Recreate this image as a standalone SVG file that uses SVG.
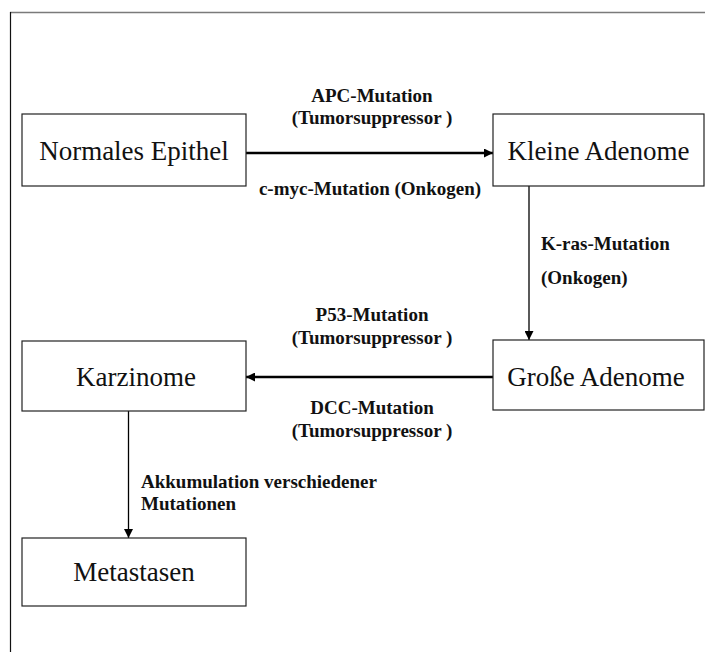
<svg xmlns="http://www.w3.org/2000/svg" width="705" height="652" viewBox="0 0 705 652">
  <style>
    .box { fill: #ffffff; stroke: #222222; stroke-width: 1.2; }
    .node { font-family: "Liberation Serif", "Times New Roman", serif; font-size: 27px; fill: #111111; text-anchor: middle; }
    .lbl { font-family: "Liberation Serif", "Times New Roman", serif; font-size: 19px; font-weight: bold; fill: #111111; }
    .mid { text-anchor: middle; }
    .thick { stroke: #000000; stroke-width: 2.4; fill: none; }
    .thin { stroke: #000000; stroke-width: 1.3; fill: none; }
  </style>
  <defs>
    <marker id="ah" viewBox="0 0 10 10" refX="10" refY="5" markerWidth="9" markerHeight="9" markerUnits="userSpaceOnUse" orient="auto">
      <path d="M0,0 L10,5 L0,10 z" fill="#000000"/>
    </marker>
  </defs>
  <rect x="0" y="0" width="705" height="652" fill="#ffffff"/>
  <g id="frame">
    <line x1="10" y1="12.5" x2="705" y2="12.5" stroke="#7a7a7a" stroke-width="1.3"/>
    <line x1="10.5" y1="12" x2="10.5" y2="652" stroke="#111111" stroke-width="1.2"/>
  </g>
  <g id="connectors">
    <line class="thick" x1="246" y1="153" x2="493" y2="153" marker-end="url(#ah)"/>
    <line class="thin" x1="529" y1="186" x2="529" y2="340" marker-end="url(#ah)"/>
    <line class="thick" x1="493" y1="377" x2="246" y2="377" marker-end="url(#ah)"/>
    <line class="thin" x1="128.5" y1="411" x2="128.5" y2="538" marker-end="url(#ah)"/>
    <text class="lbl mid" x="372" y="102">APC-Mutation</text>
    <text class="lbl mid" x="372" y="124">(Tumorsuppressor )</text>
    <text class="lbl mid" x="370" y="195">c-myc-Mutation (Onkogen)</text>
    <text class="lbl" x="541" y="250">K-ras-Mutation</text>
    <text class="lbl" x="541" y="284">(Onkogen)</text>
    <text class="lbl mid" x="372" y="321">P53-Mutation</text>
    <text class="lbl mid" x="372" y="344">(Tumorsuppressor )</text>
    <text class="lbl mid" x="372" y="414">DCC-Mutation</text>
    <text class="lbl mid" x="372" y="437">(Tumorsuppressor )</text>
    <text class="lbl" x="141" y="488">Akkumulation verschiedener</text>
    <text class="lbl" x="141" y="510">Mutationen</text>
  </g>
  <g id="normales-epithel">
    <rect class="box" x="22" y="114" width="224" height="72"/>
    <text class="node" x="134" y="160">Normales Epithel</text>
  </g>
  <g id="kleine-adenome">
    <rect class="box" x="493" y="114" width="211" height="72"/>
    <text class="node" x="598.5" y="160">Kleine Adenome</text>
  </g>
  <g id="grosse-adenome">
    <rect class="box" x="493" y="340" width="211" height="70"/>
    <text class="node" x="596" y="386">Große Adenome</text>
  </g>
  <g id="karzinome">
    <rect class="box" x="22" y="341" width="224" height="70"/>
    <text class="node" x="136" y="386">Karzinome</text>
  </g>
  <g id="metastasen">
    <rect class="box" x="22" y="538" width="224" height="68"/>
    <text class="node" x="134" y="581">Metastasen</text>
  </g>
</svg>
